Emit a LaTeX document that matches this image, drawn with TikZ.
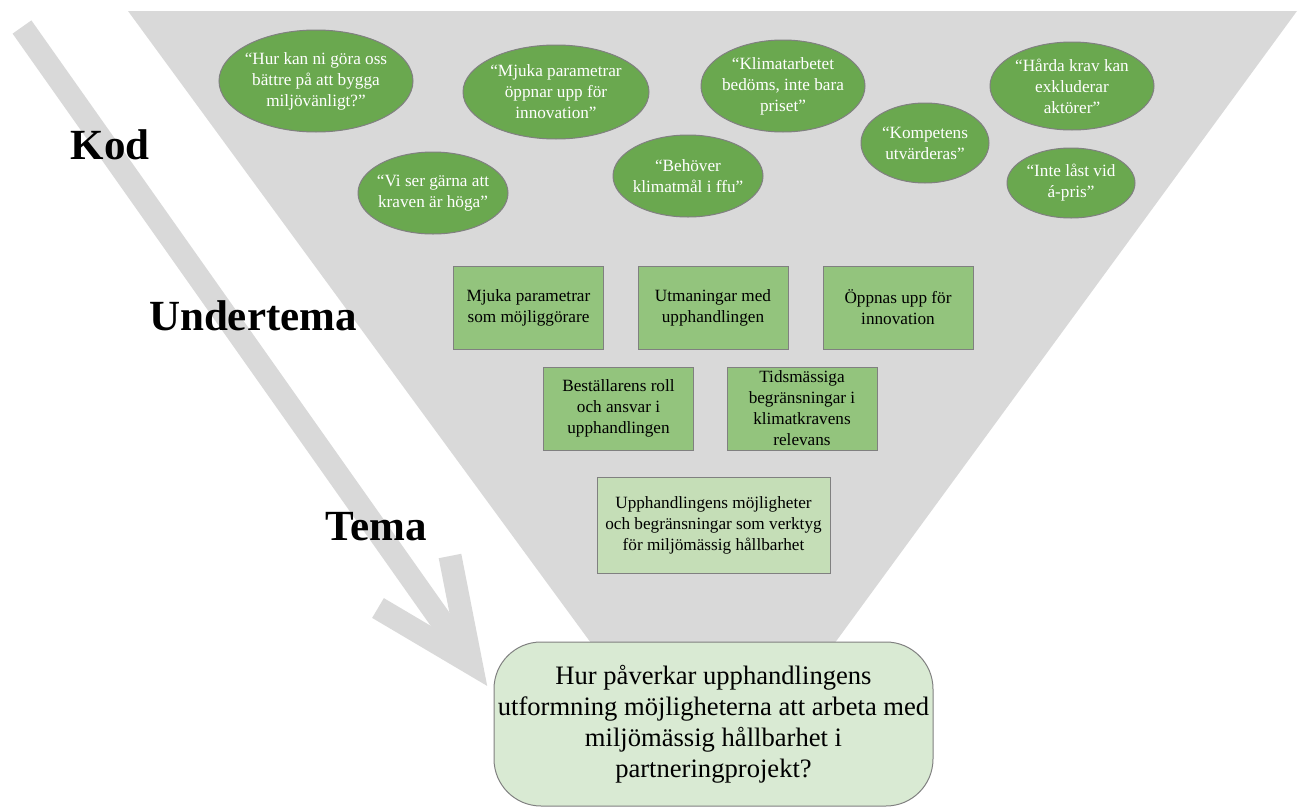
\documentclass[tikz,border=0pt]{standalone}
\usepackage{fontspec}
\setmainfont{Liberation Serif}
\usetikzlibrary{shapes.geometric}
\definecolor{funnelgrey}{rgb}{0.851,0.851,0.851}
\definecolor{kodgreen}{rgb}{0.416,0.659,0.310}
\definecolor{subgreen}{rgb}{0.576,0.769,0.490}
\definecolor{temagreen}{rgb}{0.773,0.871,0.718}
\definecolor{fragagreen}{rgb}{0.851,0.918,0.827}
\definecolor{edgegrey}{rgb}{0.5,0.5,0.5}
\tikzset{
  kod/.style 2 args={ellipse,draw=edgegrey,line width=0.5pt,fill=kodgreen,text=white,
    minimum width=#1pt,minimum height=#2pt,inner sep=-6pt,align=center,
    font=\fontsize{8.6}{10.5}\selectfont},
  undertema/.style={rectangle,draw=edgegrey,line width=0.5pt,fill=subgreen,
    minimum width=75pt,minimum height=41.5pt,inner sep=0pt,align=center,
    font=\fontsize{8.6}{10.5}\selectfont},
  tema/.style={rectangle,draw=edgegrey,line width=0.5pt,fill=temagreen,
    minimum width=116.5pt,minimum height=48pt,inner sep=0pt,align=center,
    font=\fontsize{8.6}{10.5}\selectfont},
  fraga/.style={rectangle,rounded corners=23.5pt,draw=edgegrey,line width=0.5pt,fill=fragagreen,
    minimum width=219.5pt,minimum height=82pt,inner sep=0pt,align=center,
    font=\fontsize{13.3}{15.5}\selectfont},
  niva/.style={font=\fontsize{21.5}{25}\selectfont\bfseries}
}
\begin{document}
\begin{tikzpicture}[x=0.5pt,y=-0.5pt,line cap=butt,line join=miter]
\useasboundingbox (0,0) rectangle (1303,809);
% funnel
\fill[funnelgrey] (128,11) -- (1297,11) -- (720,800) -- (706,800) -- cycle;
% arrow
\draw[funnelgrey,line width=11.5pt] (22,27) -- (471,663);
\draw[funnelgrey,line width=11.5pt] (378,608) -- (471,663) -- (450,556);
% levels
\node[niva] (kodlabel) at (110,145) {Kod};
\node[niva] (undertemalabel) at (253,316) {Undertema};
\node[niva] (temalabel) at (376,527) {Tema};
% codes
\node[kod={97}{51}] (k1) at (316,81) {“Hur kan ni göra oss\\bättre på att bygga\\miljövänligt?”};
\node[kod={93}{47}] (k2) at (556,92) {“Mjuka parametrar\\öppnar upp för\\innovation”};
\node[kod={75}{41}] (k3) at (433,193) {“Vi ser gärna att\\kraven är höga”};
\node[kod={75}{41}] (k4) at (688,176) {“Behöver\\klimatmål i ffu”};
\node[kod={82}{46}] (k5) at (783,86) {“Klimatarbetet\\bedöms, inte bara\\priset”};
\node[kod={64}{40}] (k6) at (925,143) {“Kompetens\\utvärderas”};
\node[kod={82}{44}] (k7) at (1072,86) {“Hårda krav kan\\exkluderar\\aktörer”};
\node[kod={64}{35}] (k8) at (1071,183) {“Inte låst vid\\á-pris”};
% subthemes
\node[undertema] (u1) at (528.5,307.5) {Mjuka parametrar\\som möjliggörare};
\node[undertema] (u2) at (713,307.5) {Utmaningar med\\upphandlingen};
\node[undertema] (u3) at (898,307.5) {Öppnas upp för\\innovation};
\node[undertema] (u4) at (618.5,408.5) {Beställarens roll\\och ansvar i\\upphandlingen};
\node[undertema] (u5) at (802,408.5) {Tidsmässiga\\begränsningar i\\klimatkravens\\relevans};
% theme
\node[tema] (t1) at (713.5,525) {Upphandlingens möjligheter\\och begränsningar som verktyg\\för miljömässig hållbarhet};
% research question
\node[fraga] (q) at (713.5,724) {Hur påverkar upphandlingens\\utformning möjligheterna att arbeta med\\miljömässig hållbarhet i\\partneringprojekt?};
\end{tikzpicture}
\end{document}
